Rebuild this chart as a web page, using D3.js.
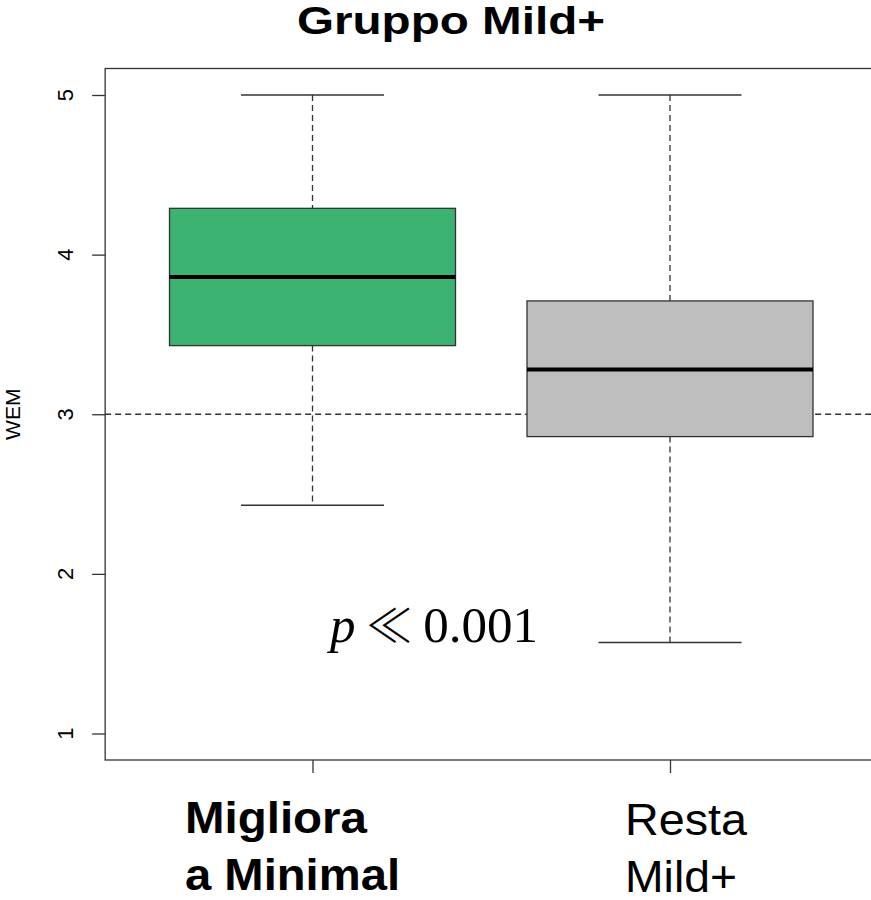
<!DOCTYPE html>
<html>
<head>
<meta charset="utf-8">
<script src="https://cdn.jsdelivr.net/npm/d3@7"></script>
<style>
  html, body { margin: 0; padding: 0; background: #fff; }
  svg { display: block; }
</style>
</head>
<body>
<svg id="chart" width="871" height="900"></svg>
<script>
// ---- data ----
const categories = ["Migliora a Minimal", "Resta Mild+"];
const whiskerLow = [2.43, 1.57];
const q1 = [3.43, 2.86];
const median = [3.86, 3.28];
const q3 = [4.29, 3.71];
const whiskerHigh = [5, 5];
const fills = ["#3CB371", "#BEBEBE"];
const yTicks = [1, 2, 3, 4, 5];
const refValue = 3;
const title = "Gruppo Mild+";
const yLabel = "WEM";
const pParts = ["p", " ≪ ", "0.001"];

const svg = d3.select("#chart");
const font = "'Liberation Sans', Arial, Helvetica, sans-serif";

const y = d3.scaleLinear().domain([1, 5]).range([733.5, 95]);
const x = d3.scaleLinear().domain([1, 2]).range([312.5, 670]);
const frameTop = 68.5, frameBottom = 760;
const frameLeft = x(0.42), frameRight = x(2.58);
const stroke = "#333";

// frame
svg.append("rect")
  .attr("x", frameLeft).attr("y", frameTop)
  .attr("width", frameRight - frameLeft).attr("height", frameBottom - frameTop)
  .attr("fill", "none").attr("stroke", stroke).attr("stroke-width", 1.3);

// reference line
svg.append("line")
  .attr("x1", frameLeft).attr("x2", frameRight)
  .attr("y1", y(refValue)).attr("y2", y(refValue))
  .attr("stroke", stroke).attr("stroke-width", 1.3)
  .attr("stroke-dasharray", "6,4");

// boxes
const data = categories.map((c, i) => ({
  c, i, lo: whiskerLow[i], q1: q1[i], med: median[i], q3: q3[i], hi: whiskerHigh[i], fill: fills[i]
}));
const g = svg.selectAll("g.box").data(data).enter().append("g").attr("class", "box");
const halfBox = 0.4, halfCap = 0.2;
g.append("line")
  .attr("x1", d => x(d.i + 1)).attr("x2", d => x(d.i + 1))
  .attr("y1", d => y(d.hi)).attr("y2", d => y(d.q3))
  .attr("stroke", stroke).attr("stroke-width", 1.3).attr("stroke-dasharray", "6,4");
g.append("line")
  .attr("x1", d => x(d.i + 1)).attr("x2", d => x(d.i + 1))
  .attr("y1", d => y(d.q1)).attr("y2", d => y(d.lo))
  .attr("stroke", stroke).attr("stroke-width", 1.3).attr("stroke-dasharray", "6,4");
g.append("line")
  .attr("x1", d => x(d.i + 1 - halfCap)).attr("x2", d => x(d.i + 1 + halfCap))
  .attr("y1", d => y(d.hi)).attr("y2", d => y(d.hi))
  .attr("stroke", stroke).attr("stroke-width", 1.5);
g.append("line")
  .attr("x1", d => x(d.i + 1 - halfCap)).attr("x2", d => x(d.i + 1 + halfCap))
  .attr("y1", d => y(d.lo)).attr("y2", d => y(d.lo))
  .attr("stroke", stroke).attr("stroke-width", 1.5);
g.append("rect")
  .attr("x", d => x(d.i + 1 - halfBox))
  .attr("width", d => x(d.i + 1 + halfBox) - x(d.i + 1 - halfBox))
  .attr("y", d => y(d.q3))
  .attr("height", d => y(d.q1) - y(d.q3))
  .attr("fill", d => d.fill).attr("stroke", stroke).attr("stroke-width", 1.3);
g.append("line")
  .attr("x1", d => x(d.i + 1 - halfBox)).attr("x2", d => x(d.i + 1 + halfBox))
  .attr("y1", d => y(d.med)).attr("y2", d => y(d.med))
  .attr("stroke", "#000").attr("stroke-width", 4);

// y axis ticks
const yAxis = d3.axisLeft(y).tickValues(yTicks).tickSize(13).tickFormat(d3.format("d"));
const ya = svg.append("g").attr("transform", `translate(${frameLeft},0)`).call(yAxis);
ya.select(".domain").remove();
ya.selectAll(".tick line").attr("stroke", stroke).attr("stroke-width", 1.3);
ya.selectAll(".tick text").remove();
svg.selectAll("text.ytick").data(yTicks).enter().append("text")
  .attr("class", "ytick")
  .attr("transform", d => `translate(73,${y(d)}) rotate(-90)`)
  .attr("text-anchor", "middle")
  .attr("font-family", font).attr("font-size", 22)
  .text(d => d);

// x axis ticks
const xAxis = d3.axisBottom(x).tickValues([1, 2]).tickSize(13).tickFormat("");
const xa = svg.append("g").attr("transform", `translate(0,${frameBottom})`).call(xAxis);
xa.select(".domain").remove();
xa.selectAll(".tick line").attr("stroke", stroke).attr("stroke-width", 1.3);

// y label
svg.append("text")
  .attr("transform", `translate(20,${y(refValue)}) rotate(-90)`)
  .attr("text-anchor", "middle")
  .attr("font-family", font).attr("font-size", 21)
  .text(yLabel);

// title
svg.append("text")
  .attr("x", 297).attr("y", 34)
  .attr("font-family", font).attr("font-size", 39).attr("font-weight", "bold")
  .attr("textLength", 308).attr("lengthAdjust", "spacingAndGlyphs")
  .text(title);

// category labels
const lab1 = [["Migliora", 182], ["a Minimal", 215]];
const lab2 = [["Resta", 122], ["Mild+", 112]];
lab1.forEach((l, k) => {
  svg.append("text").attr("x", 185).attr("y", 833 + k * 57)
    .attr("font-family", font).attr("font-size", 44).attr("font-weight", "bold")
    .attr("textLength", l[1]).attr("lengthAdjust", "spacingAndGlyphs")
    .text(l[0]);
});
lab2.forEach((l, k) => {
  svg.append("text").attr("x", 625).attr("y", 835 + k * 57)
    .attr("font-family", font).attr("font-size", 44)
    .attr("textLength", l[1]).attr("lengthAdjust", "spacingAndGlyphs")
    .text(l[0]);
});

// p value annotation
const serif = "'Liberation Serif', 'DejaVu Serif', serif";
const pt = svg.append("text").attr("x", 330).attr("y", 642)
  .attr("font-family", serif).attr("font-size", 50)
  .attr("textLength", 208).attr("lengthAdjust", "spacingAndGlyphs");
pt.append("tspan").attr("font-style", "italic").text(pParts[0]);
pt.append("tspan").attr("font-family", "'Noto Sans CJK JP', 'Noto Sans CJK SC', sans-serif")
  .attr("font-weight", 300).attr("font-size", 46).text(pParts[1]);
pt.append("tspan").text(pParts[2]);
</script>
</body>
</html>
